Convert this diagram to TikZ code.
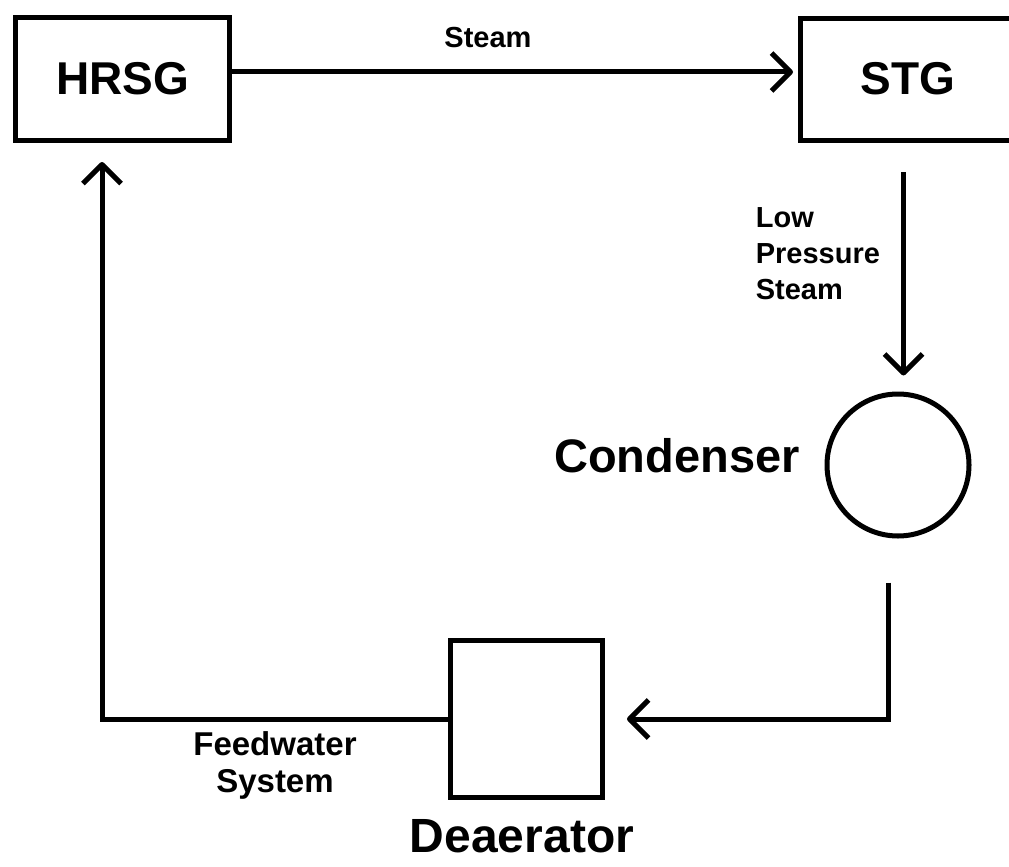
\documentclass[tikz,border=0pt]{standalone}
\usepackage{fontspec}
\setmainfont{Liberation Sans}
\usetikzlibrary{arrows.meta}

\begin{document}
\begin{tikzpicture}[x=1pt, y=-1pt, line width=5pt,
    unit/.style={rectangle, draw, inner sep=0pt},
    bigtext/.style={font=\bfseries\fontsize{46}{50}\selectfont},
    smalltext/.style={font=\bfseries\fontsize{29}{36}\selectfont},
    flow/.style={-{Straight Barb[length=19pt, width=38pt, line join=round]}, line cap=butt}]
    \useasboundingbox (0,0) rectangle (1009,867);

    \node[unit, minimum width=214pt, minimum height=123pt, bigtext] (hrsg) at (122.5,79) {HRSG};
    \node[unit, minimum width=216pt, minimum height=122pt] (stg) at (908.5,79.5) {};
    \node[bigtext] (stgtxt) at (908,79) {STG};
    \node[circle, draw, minimum size=142pt, inner sep=0pt] (cond) at (898,465) {};
    \node[unit, minimum width=152pt, minimum height=157pt] (dea) at (526.5,719) {};

    \node[smalltext] (steam) at (488,38) {Steam};
    \node[smalltext, align=left, anchor=west] (lps) at (750,254) {Low\\Pressure\\Steam};
    \node[bigtext, font=\bfseries\fontsize{47}{50}\selectfont] (condtxt) at (677,456) {Condenser};
    \node[bigtext, font=\bfseries\fontsize{48}{50}\selectfont] (deatxt) at (522,836) {Deaerator};
    \node[smalltext, align=center, font=\bfseries\fontsize{33}{37}\selectfont] (fws) at (275,765) {Feedwater\\System};

    \draw[flow, shorten >=5pt] ([yshift=7pt]hrsg.east) -- ([yshift=7pt]hrsg.east -| stg.west);
    \draw[flow, shorten <=29pt, shorten >=16pt] ([xshift=-5pt]stg.south) -- ([xshift=-5pt]stg.south |- cond.north);
    \draw[flow] ([xshift=-10pt, yshift=-44pt]cond.south) |- ([xshift=22pt]dea.east);
    \draw[flow] (dea.west) -| ([xshift=-20.5pt, yshift=-19pt]hrsg.south);
\end{tikzpicture}
\end{document}
